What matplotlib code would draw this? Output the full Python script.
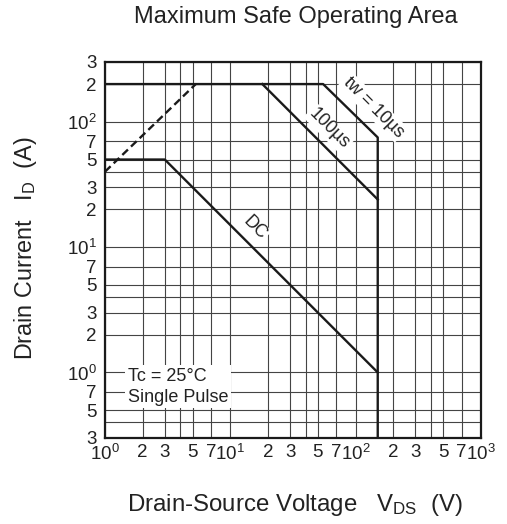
import matplotlib
matplotlib.use("Agg")
import matplotlib.pyplot as plt
from matplotlib.ticker import FixedLocator, FixedFormatter

plt.rcParams['font.family'] = ['Liberation Sans', 'DejaVu Sans']
plt.rcParams['mathtext.fontset'] = 'custom'
plt.rcParams['mathtext.rm'] = 'Liberation Sans'
plt.rcParams['mathtext.it'] = 'Liberation Sans:italic'
plt.rcParams['mathtext.default'] = 'regular'

# Axis grid / tick values
x_ticks = [1, 2, 3, 4, 5, 7, 10, 20, 30, 40, 50, 70, 100, 200, 300, 400, 500, 700, 1000]
x_labels = ['$10^0$', '2', '3', '', '5', '7', '$10^1$', '2', '3', '', '5', '7',
            '$10^2$', '2', '3', '', '5', '7', '$10^3$']
y_ticks = [0.3, 0.4, 0.5, 0.7, 1, 2, 3, 4, 5, 7, 10, 20, 30, 40, 50, 70, 100, 200, 300]
y_labels = ['3', '', '5', '7', '$10^0$', '2', '3', '', '5', '7', '$10^1$', '2', '3', '',
            '5', '7', '$10^2$', '2', '3']

# SOA boundary segments (V, A)
rds_v = [1, 5.3]
rds_i = [40, 200]
pulse10_v = [1, 55, 150, 150]
pulse10_i = [200, 200, 75, 0.3]
pulse100_v = [18, 150]
pulse100_i = [200, 24]
dc_v = [1, 3, 150]
dc_i = [50, 50, 1]

W, H = 507, 524
fig = plt.figure(figsize=(W / 100, H / 100), dpi=100)
ax = fig.add_axes([105 / W, 1 - 438 / H, 376 / W, 376 / H])
ax.set_xscale('log')
ax.set_yscale('log')
ax.set_xlim(1, 1000)
ax.set_ylim(0.3, 300)

ax.xaxis.set_major_locator(FixedLocator(x_ticks))
ax.xaxis.set_major_formatter(FixedFormatter(x_labels))
ax.yaxis.set_major_locator(FixedLocator(y_ticks))
ax.yaxis.set_major_formatter(FixedFormatter(y_labels))
ax.xaxis.set_minor_locator(FixedLocator([]))
ax.yaxis.set_minor_locator(FixedLocator([]))
ax.tick_params(axis='both', length=0, labelsize=13.5, colors='#222222')
ax.tick_params(axis='x', pad=4)
ax.tick_params(axis='y', pad=6)
ax.grid(True, which='major', color='#444444', linewidth=0.8)
ax.set_axisbelow(True)
for s in ax.spines.values():
    s.set_linewidth(1.6)
    s.set_color('#1a1a1a')

lw = 1.7
col = '#1a1a1a'
ax.plot(rds_v, rds_i, color=col, lw=lw, ls=(0, (3.3, 1.8)), dash_capstyle='butt')
ax.plot(pulse10_v, pulse10_i, color=col, lw=lw)
ax.plot(pulse100_v, pulse100_i, color=col, lw=lw)
ax.plot(dc_v, dc_i, color=col, lw=lw)

box = dict(facecolor='white', edgecolor='none', pad=1.0)
ax.text(138, 131, 'tw = 10µs', rotation=-45, ha='center', va='center',
        rotation_mode='anchor', fontsize=13, color='#222222', bbox=box)
ax.text(61, 88, '100µs', rotation=-45, ha='center', va='center',
        rotation_mode='anchor', fontsize=13, color='#222222', bbox=box)
ax.text(15.7, 14.2, 'DC', rotation=-45, ha='center', va='center',
        rotation_mode='anchor', fontsize=13, color='#222222', bbox=box)
ax.text(1.52, 0.77, 'Tc = 25°C\nSingle Pulse', ha='left', va='center',
        fontsize=13, color='#222222', linespacing=1.3,
        bbox=dict(facecolor='white', edgecolor='none', pad=2.0))

fig.text(296 / W, 1 - 23 / H, 'Maximum Safe Operating Area', ha='center',
         va='baseline', fontsize=17, color='#222222')
fig.text(295 / W, 1 - 511.5 / H, r'Drain-Source Voltage   $V_{DS}$  (V)', ha='center',
         va='baseline', fontsize=17.3, color='#222222')
fig.text(26 / W, 1 - 248.5 / H, r'Drain Current   $I_{D}$  (A)', ha='center',
         va='center', rotation=90, fontsize=16.8, color='#222222')

fig.savefig('out.png', dpi=100)
